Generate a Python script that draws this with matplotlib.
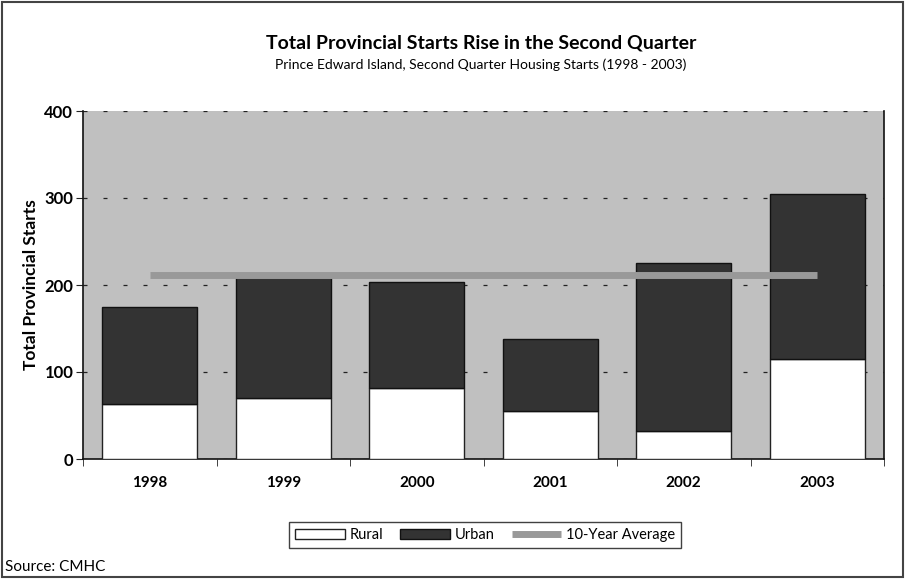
import numpy as np
import matplotlib.pyplot as plt
from matplotlib.patches import Rectangle

years = ["1998", "1999", "2000", "2001", "2002", "2003"]
rural = [63, 70, 82, 55, 32, 115]
urban = [112, 140, 121, 83, 193, 190]
ten_year_avg = [212, 212, 212, 212, 212, 212]

plt.rcParams['font.family'] = ['Lato', 'DejaVu Sans']

fig = plt.figure(figsize=(9.05, 5.79), dpi=100)
ax = fig.add_axes([83 / 905, 120 / 579, 801 / 905, 348 / 579])
ax.set_facecolor("#c0c0c0")

x = np.arange(len(years))
b1 = ax.bar(x, rural, width=0.71, color="white", edgecolor="#222222", linewidth=1, label="Rural", zorder=3)
b2 = ax.bar(x, urban, width=0.71, bottom=rural, color="#333333", edgecolor="#111111", linewidth=1,
            label="Urban", zorder=3)
ln, = ax.plot(x, ten_year_avg, color="#999999", linewidth=5, solid_capstyle="butt", label="10-Year Average",
              zorder=4)

ax.set_xlim(-0.5, len(years) - 0.5)
ax.set_ylim(0, 400)
ax.set_yticks([0, 100, 200, 300, 400])
ax.set_yticklabels(["0", "100", "200", "300", "400"], fontsize=12, fontweight="bold")
ax.yaxis.grid(True, linestyle=(0, (3.2, 12.8)), color="#222222", linewidth=0.9, zorder=1)
ax.set_axisbelow(True)

ax.set_xticks(x)
ax.set_xticklabels(years, fontsize=11, fontweight="bold")
ax.tick_params(axis="x", which="major", length=0, pad=12)
ax.set_xticks(np.arange(-0.5, len(years)), minor=True)
ax.tick_params(axis="x", which="minor", length=5, color="#222222")
ax.tick_params(axis="y", length=5, color="#222222", pad=2)

ax.spines["top"].set_visible(False)
for s in ["left", "right", "bottom"]:
    ax.spines[s].set_color("#111111")
    ax.spines[s].set_linewidth(1.2)

ax.set_ylabel("Total Provincial Starts", fontsize=12.5, fontweight="bold", labelpad=4)

fig.text(0.5315, 0.925, "Total Provincial Starts Rise in the Second Quarter", ha="center", va="center",
         fontsize=14, fontweight="bold")
fig.text(0.5315, 0.888, "Prince Edward Island, Second Quarter Housing Starts (1998 - 2003)", ha="center",
         va="center", fontsize=10)
fig.text(0.006, 0.021, "Source: CMHC", ha="left", va="center", fontsize=11)

leg = fig.legend([b1, b2, ln], ["Rural", "Urban", "10-Year Average"], loc="center",
                 bbox_to_anchor=(485 / 905, 1 - 535 / 579), ncol=3, frameon=True,
                 fancybox=False, edgecolor="#111111", fontsize=10.5, handlelength=3.4, handletextpad=0.3,
                 columnspacing=1.2, borderpad=0.4)
leg.get_frame().set_linewidth(1)

fig.patches.append(Rectangle((0.002, 0.003), 0.996, 0.994, transform=fig.transFigure, fill=False,
                             edgecolor="#444444", linewidth=1.5))

fig.savefig("out.png", dpi=100)
